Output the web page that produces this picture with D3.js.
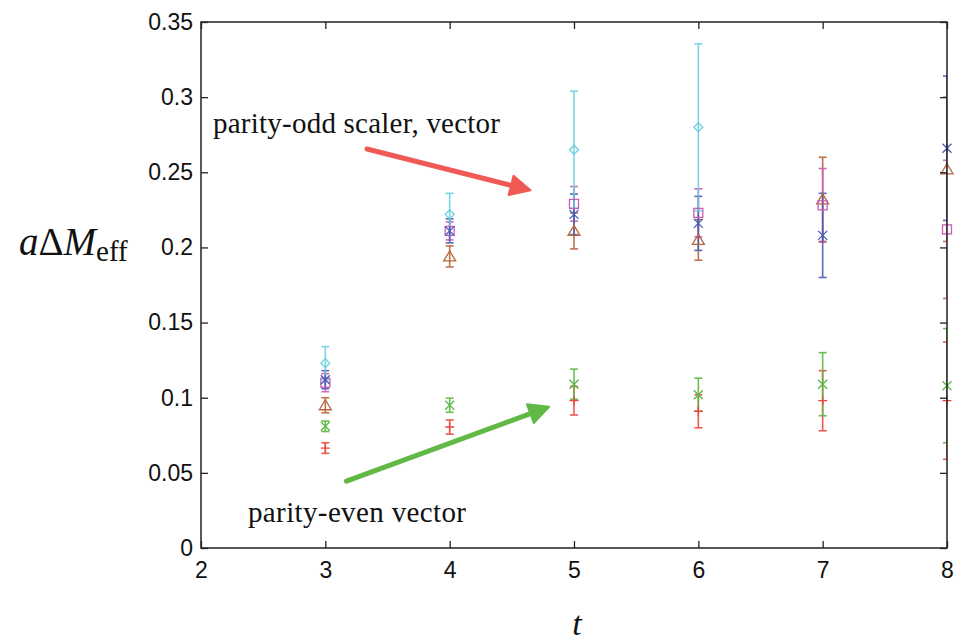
<!DOCTYPE html>
<html>
<head>
<meta charset="utf-8">
<script src="https://cdn.jsdelivr.net/npm/d3@7"></script>
<style>
  body { margin: 0; background: #fff; }
  svg text { font-family: "Liberation Sans", Arial, sans-serif; }
</style>
</head>
<body>
<svg id="chart" width="969" height="641"></svg>
<script>
// data
const tAll = [3, 4, 5, 6, 7, 8];
const tCyan = [3, 4, 5, 6];
const cyanVal = [0.123, 0.222, 0.265, 0.280];
const cyanErr = [0.011, 0.014, 0.039, 0.0555];
const blueVal = [0.112, 0.211, 0.222, 0.216, 0.208, 0.266];
const blueErr = [0.006, 0.008, 0.0135, 0.018, 0.028, 0.048];
const magentaVal = [0.110, 0.211, 0.229, 0.223, 0.228, 0.212];
const magentaErr = [0.006, 0.006, 0.0115, 0.016, 0.0245, 0.046];
const brownVal = [0.095, 0.194, 0.211, 0.205, 0.232, 0.252];
const brownErr = [0.005, 0.007, 0.012, 0.0135, 0.028, 0.048];
const greenVal = [0.081, 0.095, 0.109, 0.102, 0.109, 0.108];
const greenErr = [0.0035, 0.0047, 0.010, 0.011, 0.021, 0.038];
const redVal = [0.0665, 0.0805, 0.098, 0.091, 0.098, 0.098];
const redErr = [0.0035, 0.0047, 0.0095, 0.011, 0.020, 0.039];
const xTicks = [2, 3, 4, 5, 6, 7, 8];
const yTicks = [0, 0.05, 0.1, 0.15, 0.2, 0.25, 0.3, 0.35];

const svg = d3.select('#chart');
const x = d3.scaleLinear().domain([2, 8]).range([201, 947]);
const y = d3.scaleLinear().domain([0, 0.35]).range([548, 22]);
const serif = '"Liberation Serif", "DejaVu Serif", serif';

function zip(ts, vals, errs) {
  return ts.map((t, i) => ({t, v: vals[i], e: errs[i]}));
}
const series = [
  {name: 'red', color: '#e8493f', sym: 'plus', data: zip(tAll, redVal, redErr)},
  {name: 'green', color: '#5cb845', sym: 'cross', data: zip(tAll, greenVal, greenErr)},
  {name: 'brown', color: '#b8653a', sym: 'triangle', data: zip(tAll, brownVal, brownErr)},
  {name: 'magenta', color: '#c85fb6', sym: 'square', data: zip(tAll, magentaVal, magentaErr)},
  {name: 'blue', color: '#4a5cb0', sym: 'star', data: zip(tAll, blueVal, blueErr)},
  {name: 'cyan', color: '#6ccfe0', sym: 'diamond', data: zip(tCyan, cyanVal, cyanErr)}
];

svg.append('clipPath').attr('id', 'clip').append('rect')
  .attr('x', 201).attr('y', 22).attr('width', 746).attr('height', 526);

// error bars
const bars = svg.append('g').attr('clip-path', 'url(#clip)');
series.forEach(s => {
  const g = bars.append('g').attr('stroke', s.color).attr('stroke-width', 1.6).attr('opacity', 0.9);
  s.data.forEach(d => {
    const cx = x(d.t), y1 = y(d.v + d.e), y2 = y(d.v - d.e);
    g.append('line').attr('x1', cx).attr('x2', cx).attr('y1', y1).attr('y2', y2);
    g.append('line').attr('x1', cx - 4).attr('x2', cx + 4).attr('y1', y1).attr('y2', y1);
    g.append('line').attr('x1', cx - 4).attr('x2', cx + 4).attr('y1', y2).attr('y2', y2);
  });
});

// markers
function marker(g, sym, cx, cy) {
  const r = 4.5;
  if (sym === 'plus') {
    g.append('path').attr('d', `M${cx - r},${cy}H${cx + r}M${cx},${cy - r}V${cy + r}`);
  } else if (sym === 'cross') {
    g.append('path').attr('d', `M${cx - r},${cy - r}L${cx + r},${cy + r}M${cx - r},${cy + r}L${cx + r},${cy - r}`);
  } else if (sym === 'star') {
    g.append('path').attr('d', `M${cx - r},${cy - r}L${cx + r},${cy + r}M${cx - r},${cy + r}L${cx + r},${cy - r}M${cx},${cy - r}V${cy + r}`);
  } else if (sym === 'square') {
    g.append('rect').attr('x', cx - r).attr('y', cy - r).attr('width', 2 * r).attr('height', 2 * r);
  } else if (sym === 'diamond') {
    g.append('path').attr('d', `M${cx},${cy - r}L${cx + r},${cy}L${cx},${cy + r}L${cx - r},${cy}Z`);
  } else if (sym === 'triangle') {
    g.append('path').attr('d', `M${cx},${cy - 5.5}L${cx + 6},${cy + 4.5}L${cx - 6},${cy + 4.5}Z`);
  }
}
series.forEach(s => {
  const g = svg.append('g').attr('stroke', s.color).attr('stroke-width', 1.3).attr('fill', 'none');
  s.data.forEach(d => marker(g, s.sym, x(d.t), y(d.v)));
});

// frame and axes
svg.append('rect').attr('x', 201).attr('y', 22).attr('width', 746).attr('height', 526)
  .attr('fill', 'none').attr('stroke', '#222').attr('stroke-width', 1.5);

const axFont = g => {
  g.select('.domain').remove();
  g.selectAll('.tick line').attr('stroke', '#222').attr('stroke-width', 1.3);
  g.selectAll('.tick text').attr('font-size', 23).attr('fill', '#111')
    .style('font-family', '"Liberation Sans", Arial, sans-serif');
};
svg.append('g').attr('transform', 'translate(0,548)')
  .call(d3.axisBottom(x).tickValues(xTicks).tickFormat(d3.format('d')).tickSizeInner(-7).tickSizeOuter(0).tickPadding(14))
  .call(axFont);
svg.append('g').attr('transform', 'translate(0,22)')
  .call(d3.axisTop(x).tickValues(xTicks).tickFormat('').tickSizeInner(-7).tickSizeOuter(0))
  .call(axFont);
svg.append('g').attr('transform', 'translate(201,0)')
  .call(d3.axisLeft(y).tickValues(yTicks).tickFormat(d => d === 0 ? '0' : String(+d.toFixed(2))).tickSizeInner(-7).tickSizeOuter(0).tickPadding(8))
  .call(axFont);
svg.append('g').attr('transform', 'translate(947,0)')
  .call(d3.axisRight(y).tickValues(yTicks).tickFormat('').tickSizeInner(-7).tickSizeOuter(0))
  .call(axFont);

// axis titles
const yl = svg.append('text').attr('x', 19).attr('y', 255)
  .style('font-family', serif).attr('font-size', 39).attr('fill', '#111');
yl.append('tspan').attr('font-style', 'italic').text('a');
yl.append('tspan').text('Δ');
yl.append('tspan').attr('font-style', 'italic').text('M');
yl.append('tspan').attr('font-size', 29).attr('dy', 6).text('eff');
svg.append('text').attr('x', 577).attr('y', 635).attr('text-anchor', 'middle')
  .style('font-family', serif).attr('font-style', 'italic')
  .attr('font-size', 34).attr('fill', '#111').text('t');

// annotations
function arrow(x1, y1, x2, y2, color) {
  const ang = Math.atan2(y(y2) - y(y1), x(x2) - x(x1));
  const px = x(x2), py = y(y2), L = 20, W = 10;
  const bx = px - L * Math.cos(ang), by = py - L * Math.sin(ang);
  svg.append('line').attr('x1', x(x1)).attr('y1', y(y1)).attr('x2', bx).attr('y2', by)
    .attr('stroke', color).attr('stroke-width', 5).attr('stroke-linecap', 'round');
  svg.append('path').attr('fill', color).attr('stroke', color).attr('stroke-width', 2).attr('stroke-linejoin', 'round')
    .attr('d', `M${px},${py}L${bx + W * Math.sin(ang)},${by - W * Math.cos(ang)}L${bx - W * Math.sin(ang)},${by + W * Math.cos(ang)}Z`);
}
arrow(3.335, 0.2655, 4.65, 0.238, '#ef5a55');
arrow(3.17, 0.0445, 4.8, 0.094, '#62b845');

svg.append('text').attr('x', 213).attr('y', 133)
  .style('font-family', serif).attr('font-size', 29).attr('fill', '#111')
  .attr('textLength', 287).attr('lengthAdjust', 'spacing')
  .text('parity-odd scaler, vector');
svg.append('text').attr('x', 248).attr('y', 522)
  .style('font-family', serif).attr('font-size', 29).attr('fill', '#111')
  .attr('textLength', 218).attr('lengthAdjust', 'spacing')
  .text('parity-even vector');
</script>
</body>
</html>
